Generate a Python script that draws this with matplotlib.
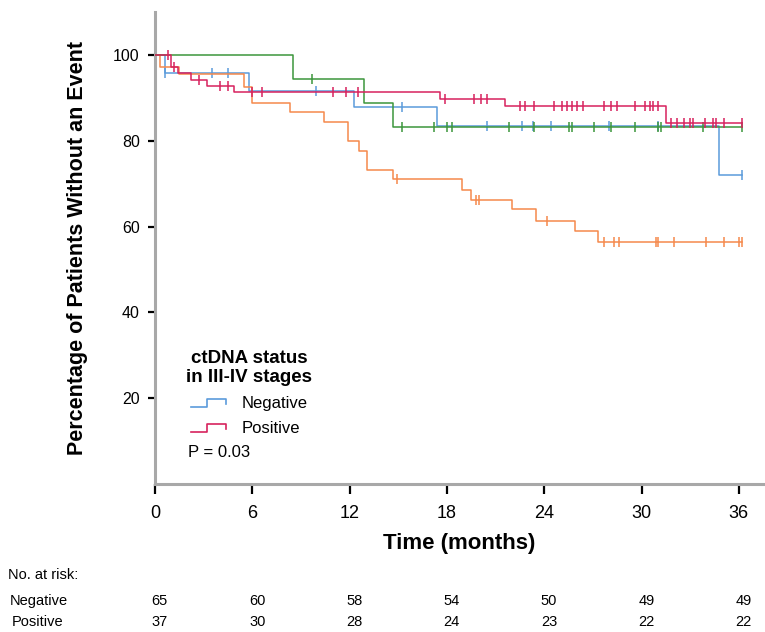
import numpy as np
import matplotlib
matplotlib.use("Agg")
import matplotlib.pyplot as plt
from matplotlib.lines import Line2D
from matplotlib.legend_handler import HandlerBase

plt.rcParams['font.family'] = ['Liberation Sans', 'DejaVu Sans']

# Kaplan-Meier step data (time in months, percent without event)
blue_t = [0, 0.6, 5.8, 12.3, 17.4, 34.8, 36.2]
blue_s = [100, 95.8, 91.5, 87.8, 83.5, 72.0, 72.0]
blue_cens = [0.6, 3.5, 4.5, 9.9, 15.2, 20.5, 22.6, 23.3, 24.4, 28.0, 31.0, 36.2]

red_t = [0, 1.0, 1.4, 2.2, 3.2, 4.9, 17.6, 21.6, 31.5, 36.2]
red_s = [100, 97.3, 95.9, 94.1, 92.7, 91.4, 89.8, 88.1, 84.1, 84.1]
red_cens = [0.8, 1.2, 2.7, 4.0, 4.5, 6.0, 6.6, 11.0, 11.8, 12.5, 17.9, 19.7, 20.1,
            20.5, 22.5, 22.8, 23.4, 24.6, 25.1, 25.4, 25.7, 26.0, 26.4, 27.7, 28.1,
            28.5, 29.6, 30.2, 30.5, 30.7, 31.0, 31.8, 32.2, 32.6, 33.0, 33.2, 33.9,
            34.4, 34.6, 35.1, 36.2]

green_t = [0, 8.5, 12.9, 14.7, 36.2]
green_s = [100, 94.4, 88.9, 83.3, 83.3]
green_cens = [9.7, 15.2, 17.2, 18.0, 18.3, 21.8, 23.4, 25.5, 25.7, 27.1, 28.1, 29.6,
              31.0, 31.2, 33.8, 36.2]

orange_t = [0, 0.3, 1.5, 5.5, 6.0, 8.3, 10.4, 11.9, 12.6, 13.1, 14.7, 18.9, 19.5,
            22.0, 23.5, 25.9, 27.3, 36.2]
orange_s = [100, 97.3, 95.5, 92.5, 88.8, 86.7, 84.3, 80.0, 77.6, 73.2, 71.0, 68.6,
            66.3, 64.0, 61.4, 58.9, 56.4, 56.4]
orange_cens = [14.9, 19.8, 20.0, 24.2, 27.7, 28.3, 28.6, 30.9, 31.0, 32.0, 34.0, 35.1,
               36.0, 36.2]

# number at risk table
risk_times = [0, 6, 12, 18, 24, 30, 36]
risk_neg = [65, 60, 58, 54, 50, 49, 49]
risk_pos = [37, 30, 28, 24, 23, 22, 22]

C_BLUE = '#5B9BDB'
C_RED = '#D7225E'
C_GREEN = '#3C963C'
C_ORANGE = '#F5894C'


class StepHandler(HandlerBase):
    def create_artists(self, legend, orig_handle, xdescent, ydescent, width, height,
                       fontsize, trans):
        x0 = -xdescent
        y0 = -ydescent
        xs = [x0, x0 + 0.45 * width, x0 + 0.45 * width, x0 + width, x0 + width]
        ys = [y0 + 0.15 * height, y0 + 0.15 * height, y0 + 0.8 * height,
              y0 + 0.8 * height, y0 + 0.4 * height]
        ln = Line2D(xs, ys, color=orig_handle.get_color(), lw=1.2)
        ln.set_transform(trans)
        return [ln]


def km(ax, t, s, cens, color, z):
    ax.step(t, s, where='post', color=color, lw=1.1, zorder=z)
    idx = np.searchsorted(t, cens, side='right') - 1
    ys = np.array(s)[idx]
    ax.plot(cens, ys, ls='none', marker='|', ms=7, mew=1.1, color=color, zorder=z)


fig = plt.figure(figsize=(7.65, 6.32), dpi=100)
ax = fig.add_axes([0.2026, 0.234, 0.795, 0.747])

km(ax, blue_t, blue_s, blue_cens, C_BLUE, 2)
km(ax, orange_t, orange_s, orange_cens, C_ORANGE, 3)
km(ax, green_t, green_s, green_cens, C_GREEN, 4)
km(ax, red_t, red_s, red_cens, C_RED, 5)

ax.set_xlim(0, 37.5)
ax.set_ylim(0, 110)
ax.set_xticks(risk_times)
ax.set_yticks([20, 40, 60, 80, 100])
for sp in ['top', 'right']:
    ax.spines[sp].set_visible(False)
for sp in ['left', 'bottom']:
    ax.spines[sp].set_color('#A8A8A8')
    ax.spines[sp].set_linewidth(2.2)
ax.tick_params(axis='x', length=7, width=1.6, color='black', labelsize=13, pad=8)
ax.tick_params(axis='y', length=5, width=1.6, color='black', labelsize=11.5, pad=6)

ax.set_xlabel('Time (months)', fontsize=16, fontweight='bold', labelpad=8)
ax.set_ylabel('Percentage of Patients Without an Event', fontsize=15.5,
              fontweight='bold', labelpad=18)

handles = [Line2D([], [], color=C_BLUE), Line2D([], [], color=C_RED)]
leg = ax.legend(handles, ['Negative', 'Positive'], title='ctDNA status\nin III-IV stages',
                loc='upper left', bbox_to_anchor=(0.038, 0.302), frameon=False,
                borderpad=0, handlelength=2.1, handletextpad=0.9, labelspacing=0.6,
                fontsize=12, title_fontproperties={'weight': 'bold', 'size': 13.5},
                handler_map={Line2D: StepHandler()})
leg.get_title().set_multialignment('center')
ax.text(0.055, 0.067, 'P = 0.03', transform=ax.transAxes, fontsize=12, va='center')

# at-risk table
tr = matplotlib.transforms.blended_transform_factory(ax.transData, fig.transFigure)
fig.text(0.010, 0.090, 'No. at risk:', fontsize=10.5, va='center')
fig.text(0.013, 0.049, 'Negative', fontsize=10.5, va='center')
fig.text(0.016, 0.016, 'Positive', fontsize=10.5, va='center')
for t, n1, n2 in zip(risk_times, risk_neg, risk_pos):
    ax.text(t + 0.3, 0.049, str(n1), transform=tr, fontsize=10.5, ha='center', va='center')
    ax.text(t + 0.3, 0.016, str(n2), transform=tr, fontsize=10.5, ha='center', va='center')

fig.savefig('out.png', dpi=100)
